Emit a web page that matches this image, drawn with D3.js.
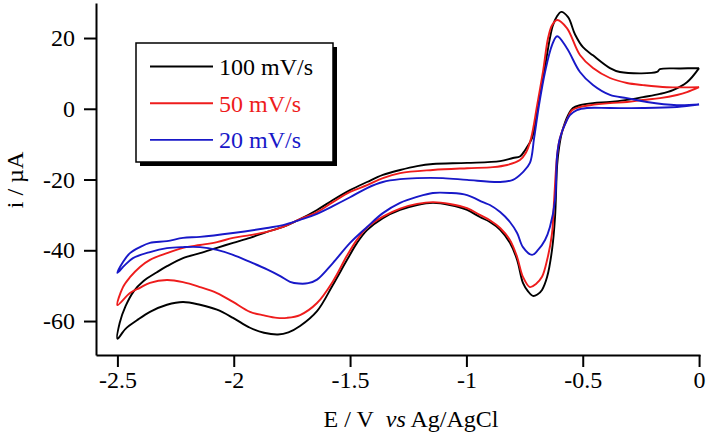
<!DOCTYPE html>
<html>
<head>
<meta charset="utf-8">
<script src="https://cdn.jsdelivr.net/npm/d3@7"></script>
<style>
	body { margin: 0; background: #fff; }
	svg text { font-family: "Liberation Serif", "Times New Roman", serif; }
</style>
</head>
<body>
<div id="chart"></div>
<script>

// cyclic voltammograms, [E (V vs Ag/AgCl), i (uA)], scan starts at 0 V going negative
var cv100 = [
	[0, 11.5], [-0.052, 7.5], [-0.112, 5.3], [-0.168, 4.2], [-0.241, 3.3], [-0.310, 2.5], [-0.383, 1.9],
	[-0.456, 1.6], [-0.512, 1.0], [-0.542, 0.2], [-0.563, -1.8], [-0.589, -6.6], [-0.602, -11.1],
	[-0.610, -15.9], [-0.619, -30.6], [-0.632, -39.9], [-0.653, -47.5], [-0.675, -51.2], [-0.695, -52.5],
	[-0.714, -52.9], [-0.735, -51.6], [-0.757, -49.2], [-0.782, -42.7], [-0.813, -37.9], [-0.855, -34.2],
	[-0.899, -32.0], [-0.942, -30.6], [-0.997, -28.6], [-1.071, -27.2], [-1.144, -26.6], [-1.212, -27.2],
	[-1.285, -28.6], [-1.359, -30.9], [-1.427, -34.3], [-1.470, -37.9], [-1.513, -42.7], [-1.574, -49.8],
	[-1.642, -57.2], [-1.715, -61.4], [-1.765, -63.2], [-1.810, -63.8], [-1.870, -63.3], [-1.930, -61.9],
	[-2.003, -59.1], [-2.072, -56.8], [-2.145, -55.4], [-2.218, -54.6], [-2.287, -55.4], [-2.360, -57.4],
	[-2.416, -59.8], [-2.465, -62.2], [-2.500, -65.0],
	[-2.490, -60.5], [-2.465, -55.8], [-2.430, -51.6], [-2.390, -48.8], [-2.330, -46.2], [-2.287, -44.5],
	[-2.218, -42.2], [-2.145, -40.8], [-2.072, -39.3], [-2.003, -37.9], [-1.930, -36.5], [-1.857, -34.8],
	[-1.788, -33.4], [-1.715, -31.2], [-1.642, -28.6], [-1.574, -25.8], [-1.500, -23.0], [-1.427, -20.7],
	[-1.359, -18.7], [-1.285, -17.3], [-1.212, -16.2], [-1.144, -15.6], [-0.997, -15.3], [-0.855, -14.8],
	[-0.800, -13.9], [-0.770, -13.5], [-0.748, -11.7], [-0.718, -8.3], [-0.692, 1.0], [-0.666, 10.4],
	[-0.641, 20.0], [-0.628, 23.6], [-0.610, 26.2], [-0.593, 27.4], [-0.563, 25.9], [-0.533, 21.0],
	[-0.499, 17.4], [-0.456, 15.1], [-0.383, 11.5], [-0.340, 10.4], [-0.181, 10.4], [-0.168, 11.2],
	[-0.080, 11.4], [0, 11.5]
];

var cv50 = [
	[0, 6.1], [-0.052, 4.7], [-0.095, 3.9], [-0.168, 3.0], [-0.241, 2.5], [-0.310, 1.9], [-0.383, 1.6],
	[-0.469, 1.0], [-0.512, 0.5], [-0.546, -0.4], [-0.563, -2.4], [-0.598, -8.3], [-0.610, -13.1],
	[-0.623, -25.8], [-0.632, -35.2], [-0.653, -42.7], [-0.675, -47.5], [-0.701, -49.5], [-0.727, -50.4],
	[-0.757, -47.5], [-0.782, -41.9], [-0.813, -37.1], [-0.855, -33.7], [-0.899, -31.5], [-0.942, -30.0],
	[-0.997, -28.1], [-1.071, -26.9], [-1.144, -26.4], [-1.212, -26.9], [-1.285, -28.2], [-1.359, -30.5],
	[-1.427, -33.6], [-1.470, -37.0], [-1.513, -41.5], [-1.574, -48.8], [-1.642, -54.9], [-1.715, -58.3],
	[-1.771, -59.1], [-1.814, -59.1], [-1.870, -58.4], [-1.930, -57.4], [-2.003, -54.6], [-2.072, -52.1],
	[-2.145, -50.4], [-2.218, -49.0], [-2.287, -48.4], [-2.360, -49.2], [-2.403, -50.6], [-2.446, -52.1],
	[-2.500, -55.5],
	[-2.476, -50.4], [-2.446, -47.6], [-2.403, -44.7], [-2.360, -42.7], [-2.287, -40.8], [-2.218, -39.3],
	[-2.145, -38.5], [-2.072, -37.7], [-2.003, -36.5], [-1.930, -35.7], [-1.857, -34.8], [-1.788, -33.4],
	[-1.715, -31.2], [-1.642, -29.2], [-1.574, -26.4], [-1.500, -23.5], [-1.427, -21.6], [-1.359, -19.6],
	[-1.285, -18.2], [-1.144, -17.3], [-0.997, -16.8], [-0.886, -16.5], [-0.825, -15.9], [-0.770, -14.5],
	[-0.745, -12.5], [-0.722, -8.3], [-0.696, 1.0], [-0.671, 10.4], [-0.649, 20.0], [-0.632, 23.6],
	[-0.610, 25.1], [-0.568, 22.8], [-0.512, 15.2], [-0.456, 11.5], [-0.383, 8.7], [-0.310, 7.3],
	[-0.241, 6.7], [-0.138, 6.1], [0, 6.1]
];

var cv20 = [
	[0, 1.2], [-0.095, 0.5], [-0.241, 0.2], [-0.383, 0.2], [-0.482, 0.2], [-0.525, -0.4], [-0.555, -1.8],
	[-0.568, -3.2], [-0.598, -8.3], [-0.610, -13.1], [-0.619, -25.8], [-0.641, -33.4], [-0.662, -37.1],
	[-0.692, -39.9], [-0.718, -41.3], [-0.757, -39.1], [-0.782, -35.1], [-0.813, -32.0], [-0.855, -29.2],
	[-0.899, -27.2], [-0.929, -26.4], [-0.997, -24.4], [-1.071, -23.8], [-1.144, -23.8], [-1.212, -24.9],
	[-1.285, -26.6], [-1.359, -29.5], [-1.427, -33.4], [-1.500, -37.9], [-1.574, -43.6], [-1.642, -48.3],
	[-1.680, -49.3], [-1.720, -49.4], [-1.758, -48.9], [-1.800, -47.3], [-1.857, -45.4], [-1.930, -43.3],
	[-2.003, -41.3], [-2.072, -39.9], [-2.145, -39.1], [-2.218, -39.1], [-2.287, -39.4], [-2.360, -40.5],
	[-2.433, -42.2], [-2.468, -44.2], [-2.500, -46.4],
	[-2.476, -43.3], [-2.446, -40.8], [-2.403, -39.1], [-2.360, -37.9], [-2.287, -37.4], [-2.218, -36.5],
	[-2.145, -36.2], [-2.003, -35.1], [-1.857, -33.7], [-1.788, -32.9], [-1.715, -31.4], [-1.642, -29.7],
	[-1.574, -27.5], [-1.500, -25.0], [-1.427, -22.4], [-1.359, -20.7], [-1.285, -19.9], [-1.212, -19.6],
	[-1.101, -19.6], [-0.997, -20.1], [-0.855, -20.7], [-0.800, -20.1], [-0.757, -17.9], [-0.727, -15.3],
	[-0.709, -8.3], [-0.688, 1.0], [-0.662, 10.4], [-0.632, 18.0], [-0.610, 20.5], [-0.568, 17.1],
	[-0.512, 10.4], [-0.456, 6.7], [-0.383, 3.9], [-0.310, 3.0], [-0.224, 1.9], [-0.095, 1.0], [0, 1.2]
];

var scanRates = ["100 mV/s", "50 mV/s", "20 mV/s"];
var colors = ["#000000", "#ee1c1c", "#1818c8"];
var xTicks = [-2.5, -2, -1.5, -1, -0.5, 0];
var yTicks = [-60, -40, -20, 0, 20];

function drawchart()	{

	const W = 708, H = 436;
	const fs = 24;

	var svg = d3.select("#chart").append("svg")
		.attr("width", W)
		.attr("height", H);

	var x = d3.scaleLinear([ -2.592, 0.004 ], [ 96, 700 ]);
	var y = d3.scaleLinear([ -69.6, 29.9 ], [ 355, 3 ]);

	var xaxis = d3.axisBottom(x).tickValues(xTicks).tickSize(12).tickSizeOuter(0).tickPadding(4)
		.tickFormat(d => String(d));
	var yaxis = d3.axisLeft(y).tickValues(yTicks).tickSize(12).tickSizeOuter(0).tickPadding(9)
		.tickFormat(d => String(d));

	var gx = svg.append("g")
		.attr("transform", `translate(0, ${y.range()[0]})`)
		.call(xaxis);
	var gy = svg.append("g")
		.attr("transform", `translate(${x.range()[0]}, 0)`)
		.call(yaxis);

	[gx, gy].forEach(g => {
		g.select(".domain").attr("stroke", "#000").attr("stroke-width", 2);
		g.selectAll(".tick line").attr("stroke", "#000").attr("stroke-width", 2);
		g.selectAll(".tick text")
			.attr("fill", "#000")
			.style("font-family", "'Liberation Serif', serif")
			.style("font-size", fs + "px");
	});

	var line = d3.line(d => x(d[0]), d => y(d[1])).curve(d3.curveCatmullRom.alpha(0.5));

	var series = [cv100, cv50, cv20];

	svg.append("g")
		.selectAll("path")
		.data(series)
		.join("path")
			.attr("fill", "none")
			.attr("stroke", (d, i) => colors[i])
			.attr("stroke-width", 1.9)
			.attr("stroke-linejoin", "round")
			.attr("d", d => line(d));

	// legend box with drop shadow
	var lg = svg.append("g");
	lg.append("rect")
		.attr("x", 140).attr("y", 47)
		.attr("width", 197).attr("height", 119)
		.attr("fill", "#000");
	lg.append("rect")
		.attr("x", 136).attr("y", 43)
		.attr("width", 197).attr("height", 119)
		.attr("fill", "#fff")
		.attr("stroke", "#000")
		.attr("stroke-width", 1.5);

	scanRates.forEach((s, i) => {
		var yy = 66.5 + i * 36.7;
		lg.append("line")
			.attr("x1", 150).attr("x2", 213)
			.attr("y1", yy).attr("y2", yy)
			.attr("stroke", colors[i])
			.attr("stroke-width", 1.9);
		lg.append("text")
			.attr("x", 219)
			.attr("y", yy + 8.5)
			.attr("fill", colors[i])
			.style("font-size", fs + "px")
			.text(s);
	});

	// axis titles
	var xt = svg.append("text")
		.attr("x", 411)
		.attr("y", 427)
		.attr("text-anchor", "middle")
		.style("font-size", fs + "px");
	xt.append("tspan").text("E / V\u00a0\u00a0");
	xt.append("tspan").style("font-style", "italic").text("vs");
	xt.append("tspan").text(" Ag/AgCl");

	svg.append("text")
		.attr("transform", "translate(23, 180) rotate(-90)")
		.attr("text-anchor", "middle")
		.style("font-size", fs + "px")
		.text("i / \u00b5A");

}

drawchart();

</script>
</body>
</html>
